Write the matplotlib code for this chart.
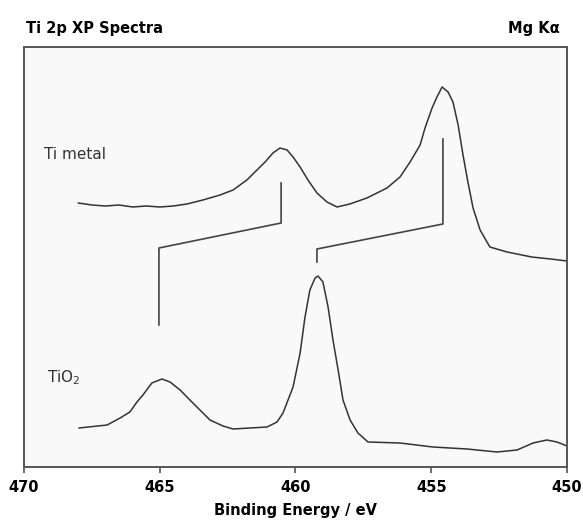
import matplotlib
matplotlib.use("Agg")
import matplotlib.pyplot as plt

# Ti metal spectrum (binding energy in eV, intensity in arbitrary units)
metal_be = [468.0, 467.5, 467.0, 466.5, 466.0, 465.5, 465.0, 464.5, 464.0, 463.41,
            462.78, 462.30, 461.79, 461.42, 461.12, 460.83, 460.57, 460.31, 460.09, 459.83,
            459.54, 459.21, 458.84, 458.47, 458.0, 457.37, 456.63, 456.15, 455.78, 455.41,
            455.23, 454.97, 454.79, 454.60, 454.38, 454.20, 454.01, 453.83, 453.65, 453.46,
            453.20, 452.84, 452.21, 451.3, 450.6, 450.0]
metal_int = [264, 262, 261, 262, 260, 261, 260, 261, 263, 267,
             272, 277, 287, 297, 305, 314, 319, 317, 310, 300,
             287, 274, 265, 260, 263, 269, 279, 290, 305, 322,
             339, 359, 370, 380, 375, 365, 342, 312, 285, 259,
             237, 220, 215, 210, 208, 206]

# TiO2 spectrum
oxide_be = [467.97, 466.94, 466.46, 466.10, 465.84, 465.62, 465.29, 464.92, 464.62, 464.25,
            463.89, 463.52, 463.15, 462.67, 462.30, 461.05, 460.68, 460.46, 460.09, 459.83,
            459.65, 459.47, 459.28, 459.17, 458.99, 458.80, 458.62, 458.43, 458.25, 457.99,
            457.70, 457.33, 456.15, 454.94, 453.68, 452.58, 451.84, 451.25, 450.74, 450.37,
            450.0]
oxide_int = [39, 42, 49, 55, 65, 72, 84, 88, 85, 77,
             67, 57, 47, 41, 38, 40, 45, 54, 80, 114,
             150, 177, 189, 191, 185, 160, 127, 97, 67, 47,
             34, 25, 24, 20, 18, 15, 17, 24, 27, 25,
             21]

# chemical shift markers: metal peak -> oxide peak
shift_2p12_be = [460.53, 460.53, 465.03, 465.03]
shift_2p12_int = [284, 244, 219, 142]
shift_2p32_be = [454.57, 454.57, 459.21, 459.21]
shift_2p32_int = [328, 243, 218, 205]

ticks = [470, 465, 460, 455, 450]

line_col = "#333333"

fig = plt.figure(figsize=(5.83, 5.25), dpi=100)
ax = fig.add_axes([24 / 583, 1 - 467 / 525, 543 / 583, 420 / 525])
ax.set_facecolor("#f9f9f9")

ax.plot(metal_be, metal_int, color=line_col, lw=1.1)
ax.plot(oxide_be, oxide_int, color=line_col, lw=1.1)
ax.plot(shift_2p12_be, shift_2p12_int, color="#444444", lw=1.2)
ax.plot(shift_2p32_be, shift_2p32_int, color="#444444", lw=1.2)

ax.text(469.26, 312, "Ti metal", fontsize=11, color="#333333", va="center")
ax.text(469.15, 89, "TiO$_2$", fontsize=11, color="#333333", va="center")

ax.set_xlim(470, 450)
ax.set_ylim(0, 420)
ax.set_xticks(ticks)
ax.set_xticklabels([str(t) for t in ticks], fontweight="bold", fontsize=10.5)
ax.set_yticks([])
ax.tick_params(axis="x", direction="out", length=4, width=1.2, color="#555555", pad=5)
for s in ax.spines.values():
    s.set_color("#555555")
    s.set_linewidth(1.4)

ax.set_xlabel("Binding Energy / eV", fontweight="bold", fontsize=10.5, labelpad=6)

fig.text(26 / 583, 1 - 28 / 525, "Ti 2p XP Spectra", fontweight="bold", fontsize=10.5,
         va="center", ha="left")
fig.text(560 / 583, 1 - 28 / 525, "Mg K\u03b1", fontweight="bold", fontsize=10.5,
         va="center", ha="right")

fig.savefig("out.png", dpi=100)
